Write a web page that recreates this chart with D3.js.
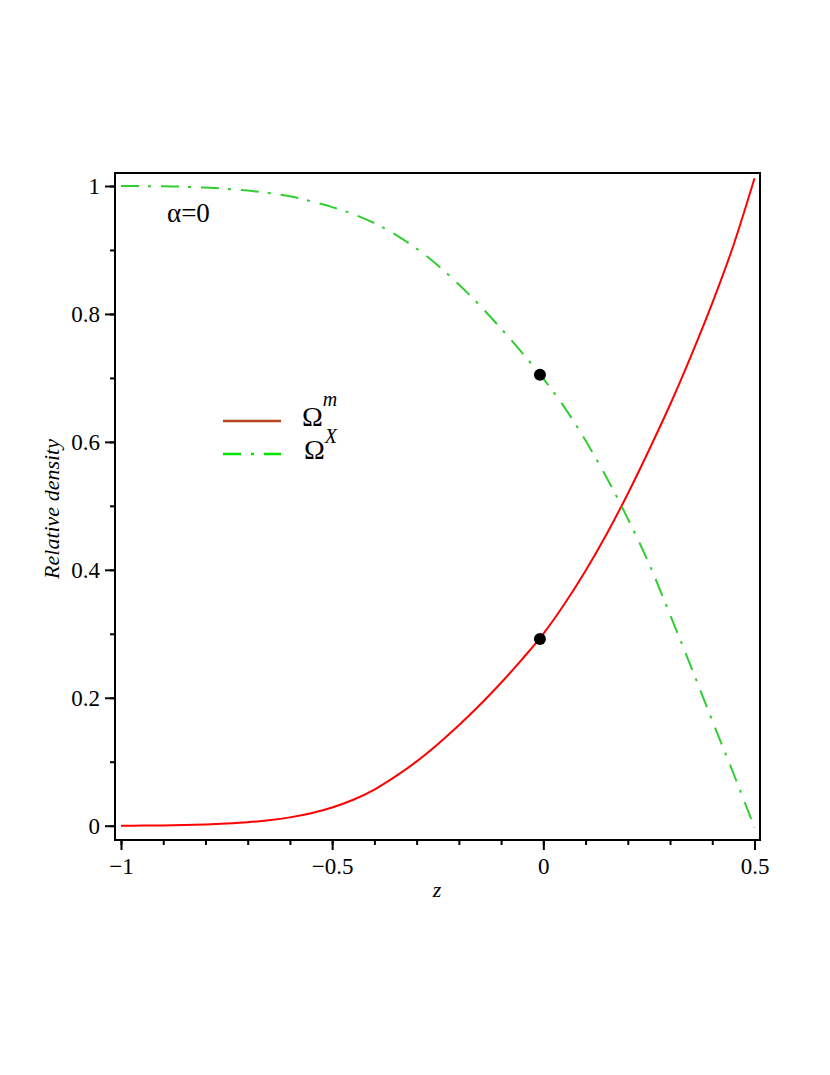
<!DOCTYPE html>
<html>
<head>
<meta charset="utf-8">
<script src="https://cdn.jsdelivr.net/npm/d3@7"></script>
<style>
  html, body { margin: 0; padding: 0; background: #fff; }
  svg { display: block; }
  svg text { font-family: "Liberation Serif", "Tinos", "Times New Roman", "DejaVu Serif", "Noto Serif", serif; fill: #000; }
</style>
</head>
<body>
<svg id="chart" width="830" height="1075"></svg>
<script>
// ---- data ----
const zValues = [-1, -0.95, -0.9, -0.85, -0.8, -0.75, -0.7, -0.65, -0.6, -0.55, -0.5, -0.45, -0.4, -0.35, -0.3, -0.25, -0.2, -0.15, -0.1, -0.05,
                 0, 0.05, 0.1, 0.15, 0.2, 0.25, 0.3, 0.35, 0.4, 0.45, 0.5];
const omegaM  = [0, 0.0002, 0.0005, 0.0011, 0.002, 0.0035, 0.0055, 0.0085, 0.013, 0.0195, 0.0285, 0.0405, 0.0565, 0.077, 0.1005, 0.1275, 0.157, 0.189, 0.2235, 0.2605,
                 0.3, 0.3465, 0.3985, 0.456, 0.519, 0.587, 0.658, 0.735, 0.817, 0.907, 1.012];
const omegaX  = [1.0, 0.9998, 0.9995, 0.9988, 0.9975, 0.9955, 0.9928, 0.989, 0.984, 0.976, 0.967, 0.956, 0.942, 0.924, 0.902, 0.876, 0.846, 0.813, 0.777, 0.739,
                 0.699, 0.654, 0.602, 0.544, 0.48, 0.41, 0.33, 0.248, 0.164, 0.082, -0.003];
const markerZ = [-0.008, -0.008];
const markerV = [0.292, 0.705];
const xMajorTicks = [-1, -0.5, 0, 0.5];
const xMinorTicks = [-1, -0.9, -0.8, -0.7, -0.6, -0.5, -0.4, -0.3, -0.2, -0.1, 0, 0.1, 0.2, 0.3, 0.4, 0.5];
const yMajorTicks = [0, 0.2, 0.4, 0.6, 0.8, 1];
const yMinorTicks = [0, 0.1, 0.2, 0.3, 0.4, 0.5, 0.6, 0.7, 0.8, 0.9, 1];
const seriesNames = ["m", "X"];

// ---- layout ----
const FONT = "'Liberation Serif', 'Tinos', 'Times New Roman', 'DejaVu Serif', 'Noto Serif', serif";
const svg = d3.select("#chart");
const box = { left: 115, right: 760, top: 173, bottom: 840 };
const x = d3.scaleLinear().domain([-1, 0.5]).range([121, 754.5]);
const y = d3.scaleLinear().domain([0, 1]).range([825.7, 186]);

const fmt = v => (v < 0 ? "\u2212" : "") + String(Math.abs(v));

// curves
const line = d3.line().x(d => x(d[0])).y(d => y(d[1])).curve(d3.curveCatmullRom.alpha(0.5));
svg.append("path")
  .attr("d", line(zValues.map((z, i) => [z, omegaM[i]])))
  .attr("fill", "none").attr("stroke", "#ff0000").attr("stroke-width", 2);
svg.append("path")
  .attr("d", line(zValues.map((z, i) => [z, omegaX[i]])))
  .attr("fill", "none").attr("stroke", "#32cd32").attr("stroke-width", 2)
  .attr("stroke-dasharray", "18,9,3,10");

// markers
svg.selectAll("circle.mk").data(markerZ.map((z, i) => [z, markerV[i]]))
  .enter().append("circle")
  .attr("cx", d => x(d[0])).attr("cy", d => y(d[1])).attr("r", 6).attr("fill", "#000");

// box
svg.append("rect")
  .attr("x", box.left).attr("y", box.top)
  .attr("width", box.right - box.left).attr("height", box.bottom - box.top)
  .attr("fill", "none").attr("stroke", "#000").attr("stroke-width", 2);

// x axis
const gx = svg.append("g").attr("transform", `translate(0,${box.bottom})`);
gx.call(d3.axisBottom(x).tickValues(xMinorTicks).tickSize(5).tickFormat(""));
gx.append("g").call(d3.axisBottom(x).tickValues(xMajorTicks).tickSize(10).tickPadding(8).tickFormat(fmt));
gx.selectAll(".domain").remove();
gx.selectAll("g").attr("font-family", FONT);
gx.selectAll("line").attr("stroke", "#000").attr("stroke-width", 2);
gx.selectAll("text").style("font-size", "23px").style("font-family", FONT);

// y axis
const gy = svg.append("g").attr("transform", `translate(${box.left},0)`);
gy.call(d3.axisLeft(y).tickValues(yMinorTicks).tickSize(5).tickFormat(""));
gy.append("g").call(d3.axisLeft(y).tickValues(yMajorTicks).tickSize(10).tickPadding(5).tickFormat(fmt));
gy.selectAll(".domain").remove();
gy.selectAll("g").attr("font-family", FONT);
gy.selectAll("line").attr("stroke", "#000").attr("stroke-width", 2);
gy.selectAll("text").style("font-size", "23px").style("font-family", FONT);

// axis titles
svg.append("text").attr("x", 437).attr("y", 897).attr("text-anchor", "middle")
  .style("font-size", "22px").style("font-style", "italic").text("z");
svg.append("text").attr("transform", "translate(59,509) rotate(-90)").attr("text-anchor", "middle")
  .style("font-size", "22px").style("font-style", "italic").text("Relative density");

// annotation
svg.append("text").attr("x", 167).attr("y", 222).style("font-size", "27px").text("\u03b1=0");

// legend
const legColors = ["#b5451b", "#00e600"];
const legDash = [null, "18,10,3,10"];
const legY = [421, 454];
seriesNames.forEach((name, i) => {
  svg.append("line").attr("x1", 223).attr("x2", 281).attr("y1", legY[i]).attr("y2", legY[i])
    .attr("stroke", legColors[i]).attr("stroke-width", 2.5)
    .attr("stroke-dasharray", legDash[i]);
  const t = svg.append("text").attr("x", 302 + i * 2).attr("y", legY[i] + 5).style("font-size", "28px");
  t.append("tspan").text("\u03a9");
  t.append("tspan").attr("dy", -20 + i * 4).style("font-size", "20px").style("font-style", "italic").text(name);
});
</script>
</body>
</html>
